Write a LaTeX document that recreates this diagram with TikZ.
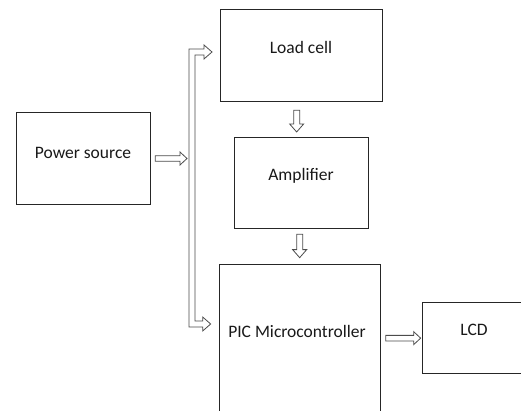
\documentclass[tikz,border=0pt]{standalone}
\usepackage{fontspec}
\setmainfont{Carlito}
\usetikzlibrary{calc}

\tikzset{
  box/.style={draw=black!85, line width=1.3pt, rectangle, inner sep=0pt, anchor=north west},
  openbox/.style={rectangle, inner sep=0pt, outer sep=0pt, anchor=north west},
  edge line/.style={draw=black!85, line width=1.3pt, line join=miter},
  label text/.style={text=black!90, font=\fontsize{17.5}{20}\selectfont, inner sep=0pt},
  blockarrow/.style={draw=black!70, line width=0.8pt, fill=white, line join=miter}
}

% hollow block arrow pointing right, from #1 to the tip #2
\newcommand\rightblock[2]{%
  \draw[blockarrow] let \p1=#1, \p2=#2 in
    (\x1,\y1+2.8pt) -- (\x2-7pt,\y1+2.8pt) -- (\x2-7pt,\y1+6.5pt) -- (\x2,\y1)
    -- (\x2-7pt,\y1-6.5pt) -- (\x2-7pt,\y1-2.8pt) -- (\x1,\y1-2.8pt) -- cycle;}
% hollow block arrow pointing down, from #1 to the tip #2
\newcommand\downblock[2]{%
  \draw[blockarrow] let \p1=#1, \p2=#2 in
    (\x1-3pt,\y1) -- (\x1-3pt,\y2+8pt) -- (\x1-7pt,\y2+8pt) -- (\x1,\y2)
    -- (\x1+7pt,\y2+8pt) -- (\x1+3pt,\y2+8pt) -- (\x1+3pt,\y1) -- cycle;}

\begin{document}
\begin{tikzpicture}[x=1pt,y=-1pt]
  \clip (0,0) rectangle (521,411);
  \fill[white] (0,0) rectangle (521,411);

  % blocks
  \node[box, minimum width=134pt, minimum height=92pt] (ps)   at (16,112)  {};
  \node[box, minimum width=162pt, minimum height=92pt] (load) at (220,9)   {};
  \node[box, minimum width=134pt, minimum height=91pt] (amp)  at (234,137) {};
  % these two run on past the edge of the page
  \node[openbox, minimum width=161pt, minimum height=160pt] (pic) at (219.65,264.65) {};
  \node[openbox, minimum width=120pt, minimum height=71pt] (lcd)  at (422.65,302.65) {};
  \draw[edge line] (pic.south west) -- (pic.north west) -- (pic.north east) -- (pic.south east);
  \draw[edge line] (lcd.north east) -- (lcd.north west) -- (lcd.south west) -- (lcd.south east);

  % block titles
  \node[label text] (ps-t)   at (83,153)  {Power source};
  \node[label text] (load-t) at (301,47)  {Load cell};
  \node[label text] (amp-t)  at (301,176) {Amplifier};
  \node[label text] (pic-t)  at (297,331) {PIC Microcontroller};
  \node[label text] (lcd-t)  at (474,330) {LCD};

  % supply bus feeding the load cell and the microcontroller
  \coordinate (busin) at (189,158.5);
  \coordinate (feedA) at ([xshift=-8pt]load.west |- 0,52);
  \coordinate (feedB) at ([xshift=-9pt]pic.west |- 0,324);
  \draw[blockarrow] let \p1=(feedA), \p2=(feedB) in
    (189,49) -- (\x1-8pt,49) -- (\x1-8pt,45) -- (feedA) -- (\x1-8pt,59)
    -- (\x1-8pt,55) -- (195,55) -- (195,321) -- (\x2-8pt,321) -- (\x2-8pt,317)
    -- (feedB) -- (\x2-8pt,331) -- (\x2-8pt,327) -- (189,327) -- cycle;

  % signal flow
  \rightblock{([xshift=4pt]ps.east |- busin)}{([xshift=-2pt]busin)}
  \downblock{([xshift=-5pt,yshift=-8pt]load.south)}{([yshift=5pt]amp.north)}
  \downblock{([xshift=-2pt,yshift=-5pt]amp.south)}{([yshift=7pt]pic.north)}
  \rightblock{([xshift=5pt]pic.east |- lcd.west)}{([xshift=-2pt]lcd.west)}
\end{tikzpicture}
\end{document}
